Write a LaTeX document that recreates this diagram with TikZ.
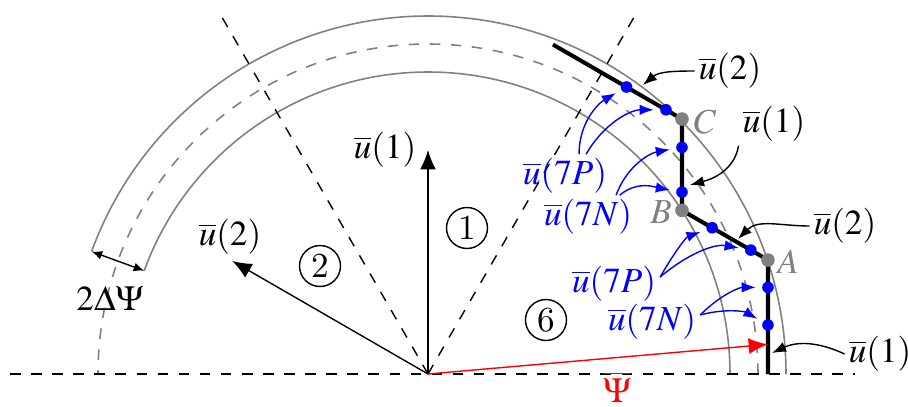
\documentclass[tikz,border=0pt]{standalone}
\usepackage{mathptmx}
\usetikzlibrary{arrows.meta,calc}

\begin{document}
\begin{tikzpicture}[>={Latex[length=5.5pt,width=4.5pt]},
		ring/.style={gray, line width=0.45pt},
		traj/.style={line width=1.15pt},
		harm/.style={blue, ->, >={Latex[length=4pt,width=3pt]}, shorten >=3.5pt},
		note/.style={->, >={Latex[length=4pt,width=3pt]}},
		sector/.style={draw, circle, inner sep=0pt, minimum size=0.41cm},
		lab/.style={inner sep=1pt}]
	\useasboundingbox (-4.28,-0.32) rectangle (4.80,3.74);
	\coordinate (O) at (0,0);

	% --- hysteresis band of the flux ---
	\draw[ring] (3.02,0) arc (0:160:3.02);
	\draw[ring] (3.58,0) arc (0:160:3.58);
	\draw[ring, dashed] (3.30,0) arc (0:180:3.30);
	\draw[<->, >={Latex[length=3pt,width=2.5pt]}] (160:3.58) -- (160:3.02);
	\node[lab] (band) at (-3.18,0.76) {$2\Delta\Psi$};

	% --- sector borders ---
	\draw[dashed] (-4.18,0) -- (4.27,0);
	\draw[dashed] (O) -- (60:4.15);
	\draw[dashed] (O) -- (120:4.15);

	% --- voltage vectors ---
	\coordinate (V1) at (90:2.24);
	\coordinate (V2) at (150:2.26);
	\draw[->] (O) -- (V1);
	\draw[->] (O) -- (V2);
	\node[lab] (lv1) at (-0.43,2.24) {$\overline{u}(1)$};
	\node[lab] (lv2) at (-1.98,1.37) {$\overline{u}(2)$};

	\node[sector] (s1) at (0.39,1.46) {1};
	\node[sector] (s2) at (-1.08,1.08) {2};
	\node[sector] (s6) at (1.18,0.54) {6};

	% --- flux trajectory ---
	\coordinate (S) at (3.4,0);
	\coordinate (A) at (3.4,1.14);
	\coordinate (B) at ($(A)+(150:0.993)$);
	\coordinate (C) at ($(B)+(0,0.913)$);
	\coordinate (E) at ($(C)+(150:1.49)$);
	\draw[traj] (S) -- (A) -- (B) -- (C) -- (E);

	\coordinate (P) at ($(S)!0.26!(A)$);
	\draw[->, red] (O) -- (P);
	\node[lab, red] (psi) at (1.89,-0.13) {$\overline{\Psi}$};

	\fill[gray] (A) circle (0.068);
	\fill[gray] (B) circle (0.068);
	\fill[gray] (C) circle (0.068);
	\node[lab, gray] (lA) at (3.6,1.12) {$A$};
	\node[lab, gray] (lB) at (2.33,1.62) {$B$};
	\node[lab, gray] (lC) at (2.77,2.52) {$C$};

	% --- harmonic switching points ---
	\coordinate (d1) at ($(S)!0.43!(A)$);
	\coordinate (d2) at ($(S)!0.76!(A)$);
	\coordinate (d3) at ($(A)!0.2!(B)$);
	\coordinate (d4) at ($(A)!0.65!(B)$);
	\coordinate (d5) at ($(B)!0.2!(C)$);
	\coordinate (d6) at ($(B)!0.69!(C)$);
	\coordinate (d7) at ($(C)!0.124!(E)$);
	\coordinate (d8) at ($(C)!0.43!(E)$);
	\foreach \d in {d1,d2,d3,d4,d5,d6,d7,d8}
		\fill[blue] (\d) circle (0.058);

	\node[lab, blue] (p1) at (1.37,1.98) {$\overline{u}(7P)$};
	\node[lab, blue] (n1) at (1.60,1.57) {$\overline{u}(7N)$};
	\node[lab, blue] (p2) at (1.86,0.90) {$\overline{u}(7P)$};
	\node[lab, blue] (n2) at (2.24,0.52) {$\overline{u}(7N)$};

	\draw[harm] ([xshift=4pt]p1.north) to[out=90, in=210] (d8);
	\draw[harm] ([xshift=6pt]p1.north) to[out=60, in=180] (d7);
	\draw[harm] ([xshift=8pt]n1.north) to[out=70, in=190] (d6);
	\draw[harm] ([xshift=9pt]n1.north) to[out=40, in=170] (d5);
	\draw[harm] ([yshift=2pt]p2.east) to[out=60, in=200] (d4);
	\draw[harm] ([yshift=2pt]p2.east) to[out=40, in=170] (d3);
	\draw[harm] ([yshift=2pt]n2.east) to[out=45, in=180] (d2);
	\draw[harm] ([yshift=2pt]n2.east) to[out=15, in=150] (d1);

	% --- which vector is applied ---
	\coordinate (t1) at (2.15,2.89);
	\coordinate (t2) at (2.62,1.89);
	\coordinate (t3) at (3.10,1.35);
	\coordinate (t4) at (3.44,0.21);
	\node[lab] (a1) at (3.02,3.03) {$\overline{u}(2)$};
	\node[lab] (a2) at (3.46,2.50) {$\overline{u}(1)$};
	\node[lab] (a3) at (4.17,1.48) {$\overline{u}(2)$};
	\node[lab] (a4) at (4.52,0.20) {$\overline{u}(1)$};
	\draw[note] (a1.west) to[out=180, in=40] (t1);
	\draw[note] (a2.south west) to[out=-100, in=15] (t2);
	\draw[note] (a3.west) to[out=180, in=45] (t3);
	\draw[note] (a4.west) to[out=155, in=25] (t4);
\end{tikzpicture}
\end{document}
